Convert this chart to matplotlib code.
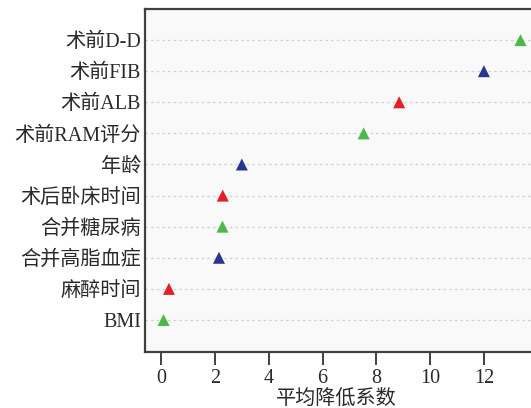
import matplotlib.pyplot as plt

plt.rcParams['font.family'] = ['Liberation Serif', 'Noto Sans CJK SC']

# 变量（自下而上）与平均降低系数
labels = ['BMI', '麻醉时间', '合并高脂血症', '合并糖尿病', '术后卧床时间',
          '年龄', '术前RAM评分', '术前ALB', '术前FIB', '术前D-D']
values = [0.09, 0.29, 2.15, 2.28, 2.29, 3.0, 7.53, 8.85, 12.0, 13.36]
colors = ['#4cb848', '#e61e25', '#2a3592', '#4cb848', '#e61e25',
          '#2a3592', '#4cb848', '#e61e25', '#2a3592', '#4cb848']

fig = plt.figure(figsize=(5.31, 4.08), dpi=100)
ax = fig.add_axes([145 / 531, 56 / 408, 390 / 531, 343 / 408])
ax.set_facecolor('#f9f9f9')

ypos = list(range(len(labels)))
for y in ypos:
    ax.axhline(y, color='#d0d0d0', lw=0.9, ls=(0, (2, 2.5)), zorder=1)
ax.scatter(values, ypos, marker='^', s=75, c=colors, zorder=3, linewidths=0)

ax.set_yticks(ypos)
ax.set_yticklabels(labels, fontsize=14.5, color='#2a2a2a')
ax.set_xticks(range(0, 13, 2))
ax.tick_params(axis='x', labelsize=14.5, length=9, width=1.4,
               color='#404040', labelcolor='#2a2a2a', pad=3)
ax.tick_params(axis='y', length=0, pad=3)
ax.set_xlim(-0.6, 13.9)
ax.set_ylim(-1.03, 10.0)
ax.set_xlabel('平均降低系数', fontsize=14.5, color='#2a2a2a', va='center')
ax.xaxis.set_label_coords(0.49, -0.137)

for side in ['left', 'bottom', 'top']:
    ax.spines[side].set_color('#404040')
    ax.spines[side].set_linewidth(1.6)
ax.spines['right'].set_visible(False)

fig.savefig('out.png', dpi=100)
